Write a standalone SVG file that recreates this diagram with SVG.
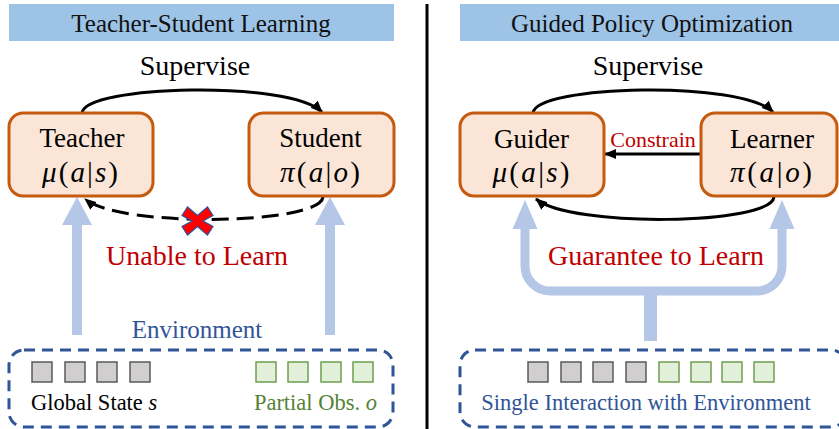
<svg xmlns="http://www.w3.org/2000/svg" width="839" height="429" viewBox="0 0 839 429" font-family="'Liberation Serif', 'Times New Roman', serif">
  <style>
    text { font-family: "Liberation Serif", "Times New Roman", serif; }
    .title { font-size: 25px; fill: #111; text-anchor: middle; }
    .bar { fill: #9DC3E6; }
    .label { font-size: 28px; fill: #000; text-anchor: middle; }
    .node { fill: #FBE5D6; stroke: #C55A11; stroke-width: 3; }
    .name { font-size: 27px; fill: #000; text-anchor: middle; }
    .math { font-size: 29px; fill: #000; text-anchor: middle; }
    .it { font-style: italic; }
    .red { fill: #C00000; }
    .env { fill: none; stroke: #2F5597; stroke-width: 3; stroke-dasharray: 11 7; }
    .envtext { fill: #2F5597; }
    .flow { fill: #B4C7E7; }
    .gray { fill: #D0CECE; stroke: #595959; stroke-width: 1.5; }
    .green { fill: #E2F0D9; stroke: #6E9E52; stroke-width: 1.5; }
    .edge { fill: none; stroke: #000; stroke-width: 3; }
  </style>
  <defs>
    <marker id="arrow" viewBox="0 0 12 10" refX="11" refY="5" markerWidth="12" markerHeight="10" markerUnits="userSpaceOnUse" orient="auto">
      <path d="M0,0 L12,5 L0,10 Z" fill="#000"/>
    </marker>
  </defs>

  <!-- panel headers -->
  <g id="header-left">
    <rect class="bar" x="9" y="4" width="385" height="37"/>
    <text class="title" x="201" y="32">Teacher-Student Learning</text>
  </g>
  <g id="header-right">
    <rect class="bar" x="460" y="4" width="379" height="37"/>
    <text class="title" x="652" y="32">Guided Policy Optimization</text>
  </g>

  <!-- divider between the two panels -->
  <line x1="427" y1="4" x2="427" y2="429" stroke="#000" stroke-width="3"/>

  <!-- observation flows (light blue) -->
  <g id="flows">
    <rect class="flow" x="72" y="224" width="10" height="111"/>
    <polygon class="flow" points="77,197 92,225 62,225"/>
    <rect class="flow" x="325" y="224" width="10" height="111"/>
    <polygon class="flow" points="330,197 345,225 315,225"/>

    <path d="M525 226 L525 266 A25 25 0 0 0 550 291 L757 291 A25 25 0 0 0 782 266 L782 226" fill="none" stroke="#B4C7E7" stroke-width="9"/>
    <polygon class="flow" points="525,200 537.5,229 512.5,229"/>
    <polygon class="flow" points="782,200 794.5,229 769.5,229"/>
    <rect class="flow" x="644" y="291" width="13" height="50"/>
  </g>

  <!-- connectors -->
  <g id="connectors">
    <path class="edge" d="M82 113 C85 85 290 80 322 112" marker-end="url(#arrow)"/>
    <path class="edge" d="M323 197 C320 225 120 228 85 199" stroke-dasharray="17 8" marker-end="url(#arrow)"/>
    <path class="edge" d="M533 113 C536 85 741 80 773 112" marker-end="url(#arrow)"/>
    <path class="edge" d="M774 197 C771 225 571 228 536 199" marker-end="url(#arrow)"/>
    <path class="edge" d="M701 154 L605 154" marker-end="url(#arrow)"/>
  </g>

  <!-- connector labels -->
  <text class="label" x="195" y="75">Supervise</text>
  <text class="label" x="648" y="75">Supervise</text>
  <text class="label red" x="197" y="265">Unable to Learn</text>
  <text class="label red" x="656" y="265">Guarantee to Learn</text>
  <text class="red" x="653" y="147" font-size="22" text-anchor="middle">Constrain</text>

  <!-- blocked-learning cross -->
  <g id="cross">
    <polygon points="182,215.5 187.5,207 197.5,215.5 207.5,207 213,215.5 203,221 213,226.5 207.5,235 197.5,226.5 187.5,235 182,226.5 192,221" fill="#FF0000" stroke="#2F5597" stroke-width="1.2" stroke-linejoin="miter"/>
  </g>

  <!-- policy nodes -->
  <g id="teacher">
    <rect class="node" x="9" y="113" width="144" height="83" rx="14"/>
    <text class="name" x="82" y="147">Teacher</text>
    <text class="math" x="80" y="182" textLength="76"><tspan class="it">μ</tspan>(<tspan class="it">a</tspan>|<tspan class="it">s</tspan>)</text>
  </g>
  <g id="student">
    <rect class="node" x="249" y="113" width="145" height="83" rx="14"/>
    <text class="name" x="320.5" y="147">Student</text>
    <text class="math" x="320" y="182" textLength="80"><tspan class="it">π</tspan>(<tspan class="it">a</tspan>|<tspan class="it">o</tspan>)</text>
  </g>
  <g id="guider">
    <rect class="node" x="460" y="113" width="144" height="83" rx="14"/>
    <text class="name" x="531.5" y="148">Guider</text>
    <text class="math" x="531" y="182" textLength="77"><tspan class="it">μ</tspan>(<tspan class="it">a</tspan>|<tspan class="it">s</tspan>)</text>
  </g>
  <g id="learner">
    <rect class="node" x="701" y="113" width="136" height="83" rx="14"/>
    <text class="name" x="772" y="148">Learner</text>
    <text class="math" x="771" y="182" textLength="82"><tspan class="it">π</tspan>(<tspan class="it">a</tspan>|<tspan class="it">o</tspan>)</text>
  </g>

  <!-- environment, left panel -->
  <g id="environment-left">
    <text class="envtext" x="197" y="338" font-size="25" text-anchor="middle">Environment</text>
    <rect class="env" x="9" y="350" width="384" height="77" rx="15"/>
    <rect class="gray" x="32" y="362" width="20" height="20"/>
    <rect class="gray" x="65" y="362" width="20" height="20"/>
    <rect class="gray" x="97" y="362" width="20" height="20"/>
    <rect class="gray" x="130" y="362" width="20" height="20"/>
    <rect class="green" x="256" y="362" width="20" height="20"/>
    <rect class="green" x="288" y="362" width="20" height="20"/>
    <rect class="green" x="321" y="362" width="20" height="20"/>
    <rect class="green" x="353" y="362" width="20" height="20"/>
    <text x="31" y="410" font-size="22.5" fill="#000">Global State <tspan class="it">s</tspan></text>
    <text x="377" y="410" font-size="22.5" fill="#548235" text-anchor="end">Partial Obs. <tspan class="it">o</tspan></text>
  </g>

  <!-- environment, right panel (runs past the right edge) -->
  <g id="environment-right">
    <rect class="env" x="460" y="350" width="386" height="77" rx="15"/>
    <rect class="gray" x="528" y="362" width="20" height="20"/>
    <rect class="gray" x="561" y="362" width="20" height="20"/>
    <rect class="gray" x="593" y="362" width="20" height="20"/>
    <rect class="gray" x="626" y="362" width="20" height="20"/>
    <rect class="green" x="659" y="362" width="20" height="20"/>
    <rect class="green" x="691" y="362" width="20" height="20"/>
    <rect class="green" x="722" y="362" width="20" height="20"/>
    <rect class="green" x="754" y="362" width="20" height="20"/>
    <text class="envtext" x="646" y="410" font-size="22.5" text-anchor="middle">Single Interaction with Environment</text>
  </g>
</svg>
